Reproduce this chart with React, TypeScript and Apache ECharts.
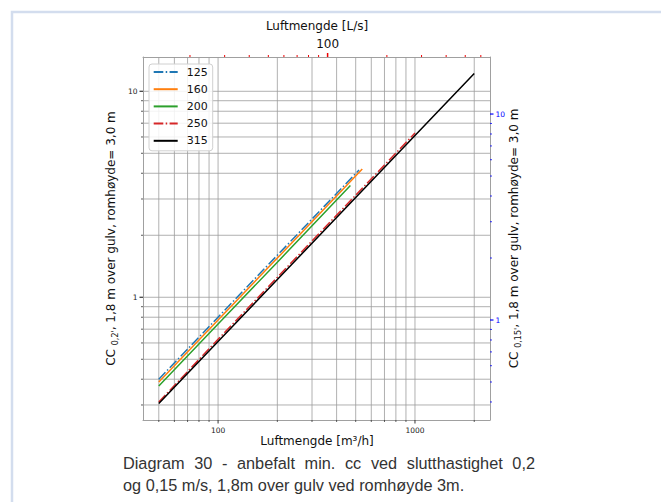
import React, { useEffect, useRef } from 'react';
import * as echarts from 'echarts';

// ---- data ----
const seriesNames = ['125', '160', '200', '250', '315'];
const seriesColors = ['#1f77b4', '#ff7f0e', '#2ca02c', '#d62728', '#000000'];
const seriesDashDot = [true, false, false, true, false];

const flow125 = [50, 100, 200, 520];
const cc125 = [0.4, 0.8, 1.6, 4.15];
const flow160 = [50, 100, 200, 540];
const cc160 = [0.388, 0.776, 1.55, 4.19];
const flow200 = [50, 100, 200, 470];
const cc200 = [0.371, 0.742, 1.48, 3.49];
const flow250 = [50, 100, 200, 1000];
const cc250 = [0.31, 0.625, 1.25, 6.27];
const flow315 = [50, 100, 200, 2000];
const cc315 = [0.305, 0.61, 1.22, 12.2];

const seriesFlows = [flow125, flow160, flow200, flow250, flow315];
const seriesCC = [cc125, cc160, cc200, cc250, cc315];

// tick values
const xMajorTicks = [100, 1000];
const xMinorTicks = [50, 60, 70, 80, 90, 200, 300, 400, 500, 600, 700, 800, 900, 2000];
const topMajorTicks = [100];
const topMinorTicks = [20, 30, 40, 50, 60, 70, 80, 90, 200, 300, 400, 500, 600];
const leftMajorTicks = [1, 10];
const leftMinorTicks = [0.3, 0.4, 0.5, 0.6, 0.7, 0.8, 0.9, 2, 3, 4, 5, 6, 7, 8, 9];
const rightMajorTicks = [1, 10];
const rightMinorTicks = [0.4, 0.5, 0.6, 0.7, 0.8, 0.9, 2, 3, 4, 5, 6, 7, 8, 9];

// texts
const captionLine1 = 'Diagram 30 - anbefalt min. cc ved slutthastighet 0,2';
const captionLine2 = 'og 0,15 m/s, 1,8m over gulv ved romhøyde 3m.';

// axis extents
const X_MIN = 41.57;
const X_MAX = 2404.6;
const LS_PER_M3H = 1 / 3.6;
const Y_MIN = 0.2536;
const Y_MAX = 14.67;
const YR_MIN = 0.327;
const YR_MAX = 18.92;

type Side = 'bottom' | 'top' | 'left' | 'right';

function tickSeries(
  values: number[],
  side: Side,
  len: number,
  color: string,
  lineWidth: number,
  xAxisIndex: number,
  yAxisIndex: number,
  label?: { color: string; fontSize: number; fontFamily: string; offset: number }
) {
  const horizontal = side === 'top' || side === 'bottom';
  return {
    type: 'custom',
    xAxisIndex,
    yAxisIndex,
    silent: true,
    clip: false,
    z: 6,
    data: values.map((v) => (horizontal ? [v, 1] : [100, v])),
    renderItem: (params: any, api: any) => {
      const cs = params.coordSys;
      const vx = api.value(0);
      const vy = api.value(1);
      const v = horizontal ? vx : vy;
      const pt = api.coord([vx, vy]);
      let x1 = 0, y1 = 0, x2 = 0, y2 = 0, tx = 0, ty = 0;
      let align = 'center';
      let vAlign = 'middle';
      if (side === 'bottom') {
        const y0 = cs.y + cs.height;
        x1 = x2 = pt[0]; y1 = y0; y2 = y0 + len;
        tx = pt[0]; ty = y2 + (label ? label.offset : 0); vAlign = 'top';
      } else if (side === 'top') {
        const y0 = cs.y;
        x1 = x2 = pt[0]; y1 = y0; y2 = y0 - len;
        tx = pt[0]; ty = y2 - (label ? label.offset : 0); vAlign = 'bottom';
      } else if (side === 'left') {
        const x0 = cs.x;
        y1 = y2 = pt[1]; x1 = x0; x2 = x0 - len;
        tx = x2 - (label ? label.offset : 0); ty = pt[1]; align = 'right';
      } else {
        const x0 = cs.x + cs.width;
        y1 = y2 = pt[1]; x1 = x0; x2 = x0 + len;
        tx = x2 + (label ? label.offset : 0); ty = pt[1]; align = 'left';
      }
      const children: any[] = [
        { type: 'line', shape: { x1, y1, x2, y2 }, style: { stroke: color, lineWidth } },
      ];
      if (label) {
        children.push({
          type: 'text',
          x: tx,
          y: ty,
          style: {
            text: String(v),
            fill: label.color,
            fontSize: label.fontSize,
            fontFamily: label.fontFamily,
            align,
            verticalAlign: vAlign,
          },
        });
      }
      return { type: 'group', children };
    },
  };
}

function gridSeries(values: number[], vertical: boolean) {
  return {
    type: 'custom',
    xAxisIndex: 0,
    yAxisIndex: 0,
    silent: true,
    clip: false,
    z: 1,
    data: values.map((v) => (vertical ? [v, 1] : [100, v])),
    renderItem: (params: any, api: any) => {
      const cs = params.coordSys;
      const pt = api.coord([api.value(0), api.value(1)]);
      const shape = vertical
        ? { x1: pt[0], y1: cs.y, x2: pt[0], y2: cs.y + cs.height }
        : { x1: cs.x, y1: pt[1], x2: cs.x + cs.width, y2: pt[1] };
      return { type: 'line', shape, style: { stroke: '#9c9c9c', lineWidth: 0.8 } };
    },
  };
}

const SANS = 'Liberation Sans, Arial, Helvetica, sans-serif';
const DEJAVU = 'DejaVu Sans, sans-serif';
const CAPTION_SIZE = 16.3;

// justified caption line: words spread between x0 and x1
function justifiedLine(text: string, x0: number, x1: number, y: number): any[] {
  const words = text.split(' ');
  let widths: number[] = words.map((w) => w.length * CAPTION_SIZE * 0.5);
  try {
    const ctx = document.createElement('canvas').getContext('2d');
    if (ctx) {
      ctx.font = `${CAPTION_SIZE}px "Liberation Sans", Arial, sans-serif`;
      widths = words.map((w) => ctx.measureText(w).width);
    }
  } catch (e) {
    /* keep estimate */
  }
  const total = widths.reduce((a, b) => a + b, 0);
  const gap = (x1 - x0 - total) / Math.max(1, words.length - 1);
  const out: any[] = [];
  let x = x0;
  words.forEach((w, i) => {
    out.push({
      type: 'text',
      x,
      y,
      style: { text: w, fontSize: CAPTION_SIZE, fontFamily: SANS, fill: '#333', align: 'left', verticalAlign: 'middle' },
    });
    x += widths[i] + gap;
  });
  return out;
}

export default function App() {
  const ref = useRef<HTMLDivElement>(null);

  useEffect(() => {
    if (!ref.current) return;
    const chart = echarts.init(ref.current, undefined, { renderer: 'svg' });

    const lineSeries = seriesNames.map((name, i) => ({
      type: 'line',
      name,
      xAxisIndex: 0,
      yAxisIndex: 0,
      data: seriesFlows[i].map((f, j) => [f, seriesCC[i][j]]),
      symbol: 'none',
      showSymbol: false,
      z: 3,
      lineStyle: {
        color: seriesColors[i],
        width: 1.5,
        type: seriesDashDot[i] ? [9.6, 2.4, 1.5, 2.4] : 'solid',
      },
      itemStyle: { color: seriesColors[i] },
    }));

    const tickLabelBottom = { color: '#222', fontSize: 7.5, fontFamily: DEJAVU, offset: 3 };
    const tickLabelLeft = { color: '#222', fontSize: 7.5, fontFamily: DEJAVU, offset: 2 };
    const tickLabelRight = { color: '#0000ff', fontSize: 7.5, fontFamily: DEJAVU, offset: 2 };
    const tickLabelTop = { color: '#111', fontSize: 12, fontFamily: DEJAVU, offset: 3 };

    const allX = [...xMajorTicks, ...xMinorTicks];
    const allY = [...leftMajorTicks, ...leftMinorTicks];

    const axisBase = {
      type: 'log',
      logBase: 10,
      axisLine: { show: true, lineStyle: { color: '#a0a0a0', width: 1 } },
      axisTick: { show: false },
      axisLabel: { show: false },
      splitLine: { show: false },
    };

    const vertLabel = (sub: string, x: number) => ({
      type: 'text',
      x,
      y: 238.5,
      rotation: Math.PI / 2,
      style: {
        text: `{a|CC }{s|${sub}}{a|, 1,8 m over gulv, romhøyde= 3,0 m}`,
        align: 'center',
        verticalAlign: 'middle',
        rich: {
          a: { fontSize: 12, fontFamily: DEJAVU, fill: '#111', lineHeight: 16, verticalAlign: 'middle' },
          s: { fontSize: 8, fontFamily: DEJAVU, fill: '#111', lineHeight: 9, verticalAlign: 'bottom' },
        },
      },
    });

    const option: any = {
      animation: false,
      backgroundColor: '#ffffff',
      grid: { left: 143, top: 57, width: 347, height: 363, containLabel: false },
      xAxis: [
        { ...axisBase, min: X_MIN, max: X_MAX, position: 'bottom' },
        { ...axisBase, min: X_MIN * LS_PER_M3H, max: X_MAX * LS_PER_M3H, position: 'top' },
      ],
      yAxis: [
        { ...axisBase, min: Y_MIN, max: Y_MAX, position: 'left' },
        { ...axisBase, min: YR_MIN, max: YR_MAX, position: 'right' },
      ],
      legend: {
        data: seriesNames,
        orient: 'vertical',
        left: 149,
        top: 64,
        itemWidth: 24,
        itemHeight: 12,
        itemGap: 6.2,
        padding: [2.5, 5, 4.5, 3.7],
        backgroundColor: 'rgba(255,255,255,0.85)',
        borderColor: '#d0d0d0',
        borderWidth: 1,
        borderRadius: 3,
        itemStyle: { color: 'rgba(0,0,0,0)', borderColor: 'rgba(0,0,0,0)', borderWidth: 0 },
        textStyle: { fontSize: 11, fontFamily: DEJAVU, color: '#111', padding: [0, 0, 0, 4] },
        selectedMode: false,
      },
      graphic: [
        {
          type: 'rect',
          z: -10,
          shape: { x: 12, y: 12, width: 700, height: 560 },
          style: { fill: 'none', stroke: '#d3ddee', lineWidth: 2.5 },
          silent: true,
        },
        {
          type: 'text',
          x: 317,
          y: 26,
          style: { text: 'Luftmengde [L/s]', fontSize: 12, fontFamily: DEJAVU, fill: '#111', align: 'center', verticalAlign: 'middle' },
        },
        {
          type: 'text',
          x: 317,
          y: 440.5,
          style: { text: 'Luftmengde [m³/h]', fontSize: 12, fontFamily: DEJAVU, fill: '#111', align: 'center', verticalAlign: 'middle' },
        },
        vertLabel("0,2'", 111),
        vertLabel("0,15'", 514),
        ...justifiedLine(captionLine1, 123, 535, 463),
        {
          type: 'text',
          x: 123,
          y: 485,
          style: { text: captionLine2, fontSize: CAPTION_SIZE, fontFamily: SANS, fill: '#333', align: 'left', verticalAlign: 'middle' },
        },
      ],
      series: [
        gridSeries(allX, true),
        gridSeries(allY, false),
        ...lineSeries,
        tickSeries(xMajorTicks, 'bottom', 3.5, '#333', 1, 0, 0, tickLabelBottom),
        tickSeries(xMinorTicks, 'bottom', 2, '#333', 0.8, 0, 0),
        tickSeries(leftMajorTicks, 'left', 3.5, '#333', 1.2, 0, 0, tickLabelLeft),
        tickSeries(leftMinorTicks, 'left', 2, '#333', 0.8, 0, 0),
        tickSeries(topMajorTicks, 'top', 4, '#ee0000', 1.5, 1, 0, tickLabelTop),
        tickSeries(topMinorTicks, 'top', 2, '#ee0000', 1, 1, 0),
        tickSeries(rightMajorTicks, 'right', 3.5, '#0000ff', 1.2, 0, 1, tickLabelRight),
        tickSeries(rightMinorTicks, 'right', 2, '#0000ff', 0.8, 0, 1),
      ],
    };

    chart.setOption(option);
    return () => {
      chart.dispose();
    };
  }, []);

  return (
    <div
      ref={ref}
      style={{ position: 'absolute', left: 0, top: 0, width: 661, height: 502 }}
    />
  );
}
